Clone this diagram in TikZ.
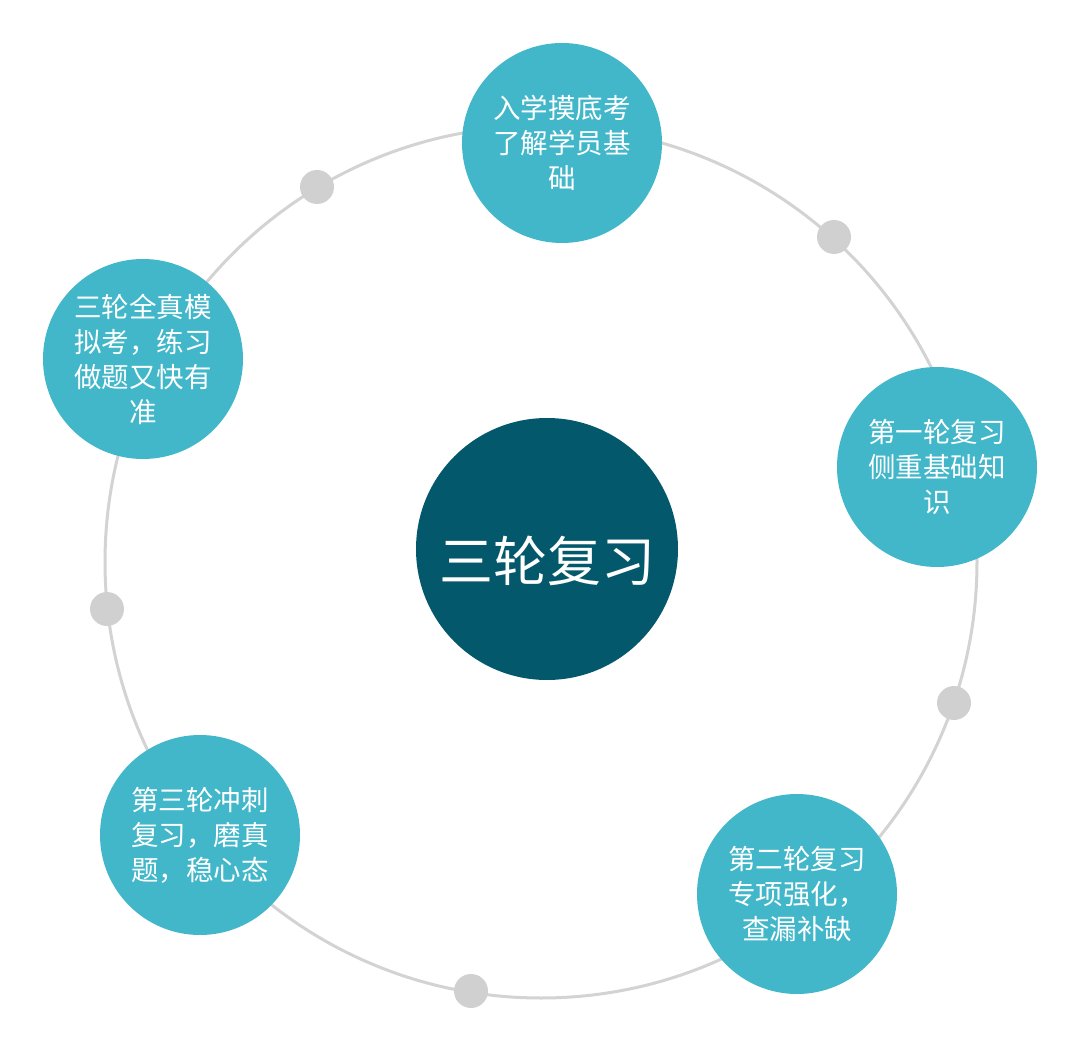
\documentclass[tikz,border=0pt]{standalone}
\usepackage{fontspec}
\setmainfont{Noto Sans CJK SC}
\definecolor{stagecol}{RGB}{66,183,201}
\definecolor{hubcol}{RGB}{4,88,107}
\definecolor{ringcol}{RGB}{211,211,211}
\definecolor{dotcol}{RGB}{208,208,208}
\begin{document}
\begin{tikzpicture}[x=1pt,y=-1pt,
  stage/.style={circle, fill=stagecol, minimum size=200pt, inner sep=0pt,
    text=white, align=center, font=\fontsize{27.5}{35}\selectfont},
  hub/.style={circle, fill=hubcol, minimum size=262pt, inner sep=0pt},
  hublabel/.style={text=white, inner sep=0pt, font=\fontsize{54}{60}\selectfont},
  ringdot/.style={circle, fill=dotcol, minimum size=34pt, inner sep=0pt}]
\useasboundingbox (0,0) rectangle (1080,1051);
\coordinate (o) at (541,562);
\draw[ringcol, line width=3pt] (o) circle[radius=436pt];
% dots on the ring
\node[ringdot] (d1) at (317,187) {};
\node[ringdot] (d2) at (834,237) {};
\node[ringdot] (d3) at (954,703) {};
\node[ringdot] (d4) at (471,991) {};
\node[ringdot] (d5) at (107,609) {};
% stages
\node[stage] (s0) at (562,143) {入学摸底考\\了解学员基\\础};
\node[stage] (s1) at (937,467) {第一轮复习\\侧重基础知\\识};
\node[stage] (s2) at (797,894) {第二轮复习\\专项强化，\\查漏补缺};
\node[stage] (s3) at (200,835) {第三轮冲刺\\复习，磨真\\题，稳心态};
\node[stage] (s4) at (143,359) {三轮全真模\\拟考，练习\\做题又快有\\准};
% hub
\node[hub] (hub) at (547,549) {};
\node[hublabel] (hubtext) at (547,561) {三轮复习};
\end{tikzpicture}
\end{document}
